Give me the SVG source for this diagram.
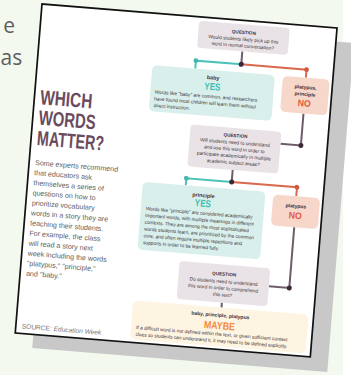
<svg xmlns="http://www.w3.org/2000/svg" width="351" height="375" viewBox="0 0 351 375">
<style>
.f{font-family:"Liberation Sans",Arial,sans-serif}
.title{font-weight:bold;font-size:20.5px;fill:#6b4b5d}
.body{font-size:7.1px;fill:#5c5c5c}
.src{font-size:6.6px;fill:#777}
.q{fill:#e9e3e8}
.yes{fill:#d9efec}
.no{fill:#f7d7ca}
.maybe{fill:#fef4e2}
.t{font-size:4.8px;fill:#3a3338}
.h{font-weight:bold;font-size:4.6px;fill:#3d2b38}
.lbl{font-weight:bold;font-size:5.4px;fill:#3d2b38}
.big{font-weight:bold;font-size:10px}
.c{text-anchor:middle}
.slide{font-family:"Open Sans","Liberation Sans",sans-serif;font-size:21px;fill:#5e5e5e}
.dk{stroke:#6e5c6b;stroke-width:2;fill:none}
.tl{stroke:#4cc3b9;stroke-width:2;fill:none}
.or{stroke:#d96a4f;stroke-width:2;fill:none}
</style>
<rect width="351" height="375" fill="#ffffff"/>
<rect width="343" height="375" fill="#f3f9ee"/>
<g id="slide-text">
<text class="slide" x="15" y="33" text-anchor="end">e</text>
<text class="slide" x="0.5" y="65">as</text>
</g>
<rect id="shadow" x="0" y="0" width="296" height="330" fill="#c8c8c8" transform="translate(59,19) rotate(4.65)"/>
<g id="page" transform="translate(42,4) rotate(4.65)" class="f">
<rect x="0" y="0" width="296" height="330" fill="#ffffff" stroke="#111" stroke-width="1.7"/>
<g id="title">
<text class="title" x="6" y="100" textLength="52" lengthAdjust="spacingAndGlyphs">WHICH</text>
<text class="title" x="6" y="120.5" textLength="57" lengthAdjust="spacingAndGlyphs">WORDS</text>
<text class="title" x="6" y="141" textLength="67" lengthAdjust="spacingAndGlyphs">MATTER?</text>
</g>
<g id="intro" class="body">
<text x="6" y="161">Some experts recommend</text>
<text x="6" y="171.1">that educators ask</text>
<text x="6" y="181.2">themselves a series of</text>
<text x="6" y="191.3">questions on how to</text>
<text x="6" y="201.4">prioritize vocabulary</text>
<text x="6" y="211.5">words in a story they are</text>
<text x="6" y="221.6">teaching their students.</text>
<text x="6" y="231.7">For example, the class</text>
<text x="6" y="241.8">will read a story next</text>
<text x="6" y="251.9">week including the words</text>
<text x="6" y="262">"platypus," "principle,"</text>
<text x="6" y="272.1">and "baby."</text>
</g>
<g id="source">
<text class="src" x="6" y="325">SOURCE: <tspan font-style="italic">Education Week</tspan></text>
</g>
<g id="connectors">
<path class="dk" d="M203.5 31V44"/>
<path class="tl" d="M203.5 44H158V52"/>
<path class="or" d="M203.5 44H269V52"/>
<path class="dk" d="M269.5 88V120H249"/>
<path class="dk" d="M203.5 150V162"/>
<path class="tl" d="M203.5 162H158V169"/>
<path class="or" d="M203.5 162H269V171"/>
<path class="dk" d="M269.5 202V263H249"/>
<path class="dk" d="M203.5 283V288"/>
<circle cx="158" cy="44" r="2.4" fill="#3fb8ae"/>
<circle cx="269" cy="44" r="2.4" fill="#d2573d"/>
<circle cx="203.5" cy="44" r="2.5" fill="#3d2a38"/>
<circle cx="269.5" cy="120" r="2.5" fill="#3d2a38"/>
<circle cx="158" cy="162" r="2.4" fill="#3fb8ae"/>
<circle cx="269" cy="162" r="2.4" fill="#d2573d"/>
<circle cx="203.5" cy="162" r="2.5" fill="#3d2a38"/>
<circle cx="269.5" cy="263" r="2.5" fill="#3d2a38"/>
</g>
<g id="q1">
<rect class="q" x="158" y="4" width="91" height="27" rx="4"/>
<text class="h c" x="203.5" y="13.5">QUESTION</text>
<text class="t c" x="203.5" y="20.5">Would students likely pick up this</text>
<text class="t c" x="203.5" y="27">word in normal conversation?</text>
</g>
<g id="yes1">
<rect class="yes" x="115" y="52" width="123" height="46" rx="5"/>
<text class="lbl c" x="176.5" y="61.5">baby</text>
<text class="big c" x="176.5" y="72" fill="#3cc0b4" textLength="16" lengthAdjust="spacingAndGlyphs">YES</text>
<text class="t" x="119.5" y="80">Words like "baby" are common, and researchers</text>
<text class="t" x="119.5" y="86.8">have found most children will learn them without</text>
<text class="t" x="119.5" y="93.6">direct instruction.</text>
</g>
<g id="no1">
<rect class="no" x="246" y="52" width="47" height="36" rx="5"/>
<text class="lbl c" x="269.5" y="63.3" style="font-size:5px">platypus,</text>
<text class="lbl c" x="269.5" y="70.3" style="font-size:5px">principle</text>
<text class="big c" x="269.5" y="81" fill="#e4573a" style="font-size:9.5px" textLength="13" lengthAdjust="spacingAndGlyphs">NO</text>
</g>
<g id="q2">
<rect class="q" x="158" y="108" width="91" height="42" rx="4"/>
<text class="h c" x="203.5" y="117">QUESTION</text>
<text class="t c" x="203.5" y="124">Will students need to understand</text>
<text class="t c" x="203.5" y="130.7">and use this word in order to</text>
<text class="t c" x="203.5" y="137.4">participate academically in multiple</text>
<text class="t c" x="203.5" y="144.1">academic subject areas?</text>
</g>
<g id="yes2">
<rect class="yes" x="115" y="169" width="123" height="68" rx="5"/>
<text class="lbl c" x="176.5" y="179.5">principle</text>
<text class="big c" x="176.5" y="189" fill="#3cc0b4" textLength="16" lengthAdjust="spacingAndGlyphs">YES</text>
<text class="t" x="120" y="197">Words like "principle" are considered academically</text>
<text class="t" x="120" y="203.8">important words, with multiple meanings in different</text>
<text class="t" x="120" y="210.6">contexts. They are among the most sophisticated</text>
<text class="t" x="120" y="217.4">words students learn, are prioritized by the common</text>
<text class="t" x="120" y="224.2">core, and often require multiple repetitions and</text>
<text class="t" x="120" y="231">supports in order to be learned fully.</text>
</g>
<g id="no2">
<rect class="no" x="246" y="171" width="47" height="31" rx="5"/>
<text class="lbl c" x="269.5" y="182.5" style="font-size:5px">platypus</text>
<text class="big c" x="269.5" y="193.5" fill="#e4573a" style="font-size:9.5px" textLength="13" lengthAdjust="spacingAndGlyphs">NO</text>
</g>
<g id="q3">
<rect class="q" x="158" y="245" width="91" height="38" rx="4"/>
<text class="h c" x="203.5" y="256">QUESTION</text>
<text class="t c" x="203.5" y="263.5">Do students need to understand</text>
<text class="t c" x="203.5" y="270.2">this word in order to comprehend</text>
<text class="t c" x="203.5" y="276.9">this text?</text>
</g>
<g id="maybe">
<rect class="maybe" x="115" y="288" width="176" height="39" rx="5"/>
<text class="lbl c" x="203" y="297.5" style="font-size:5px">baby, principle, platypus</text>
<text class="big c" x="203" y="309.8" fill="#f5893a" style="font-size:10.5px" textLength="31" lengthAdjust="spacingAndGlyphs">MAYBE</text>
<text class="t" x="120" y="316.3">If a difficult word is not defined within the text, or given sufficient context</text>
<text class="t" x="120" y="323">clues so students can understand it, it may need to be defined explicitly.</text>
</g>
</g>
</svg>
